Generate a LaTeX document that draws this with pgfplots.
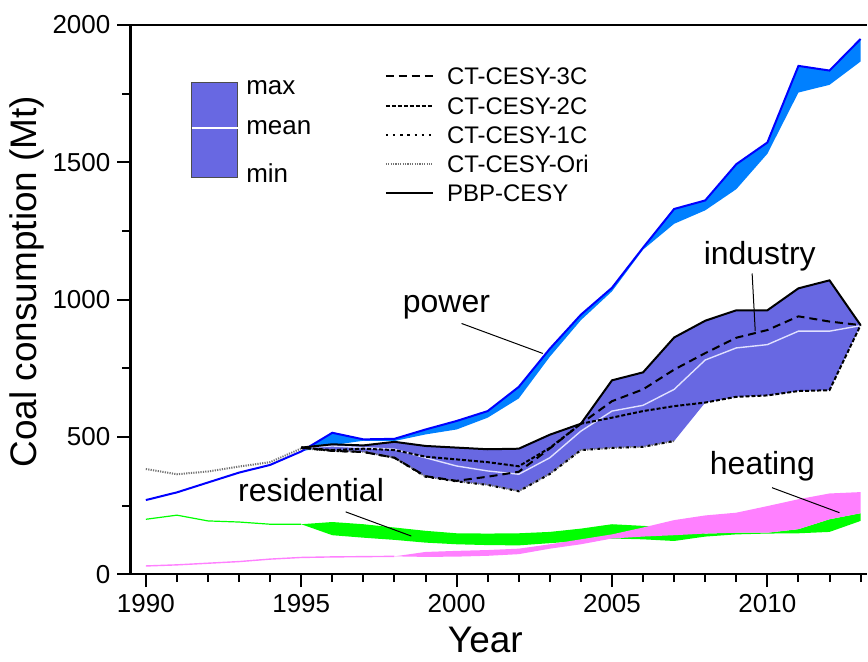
\documentclass[border=0pt]{standalone}
\usepackage{pgfplots}
\pgfplotsset{compat=1.18}
\usepgfplotslibrary{fillbetween}
\usepackage{fontspec}
\setmainfont{Liberation Sans}
\definecolor{powfill}{RGB}{0,128,255}
\definecolor{powline}{RGB}{0,0,255}
\definecolor{indfill}{RGB}{104,104,226}
\definecolor{resfill}{RGB}{0,255,0}
\definecolor{heatfill}{RGB}{255,128,255}
\newcommand\tickfont{\fontsize{13bp}{15bp}\selectfont}
\newcommand\labfont{\fontsize{18.5bp}{21bp}\selectfont}
\newcommand\annofont{\fontsize{16bp}{19bp}\selectfont}
\newcommand\legfont{\fontsize{12bp}{14bp}\selectfont}
\newcommand\legbfont{\fontsize{13bp}{15bp}\selectfont}
\begin{document}
\begin{tikzpicture}
\begin{axis}[name=ax,
  width=368.75bp, height=275bp, scale only axis,
  xmin=1989.5, xmax=2013.2, ymin=0, ymax=2000,
  axis x line*=box, axis y line*=left,
  axis line style={-, line width=1.2bp},
  xtick pos=bottom, ytick pos=left,
  tick align=outside,
  major tick length=6.5bp, minor tick length=4bp,
  every tick/.style={black, line width=1bp},
  xtick={1990,1995,2000,2005,2010},
  minor xtick={1990,1991,...,2013},
  ytick={0,500,1000,1500,2000},
  minor ytick={250,750,1250,1750},
  /pgf/number format/1000 sep={},
  /pgf/number format/assume math mode=true,
  ticklabel style={font=\tickfont},
  xlabel={Year}, ylabel={Coal consumption (Mt)},
  label style={font=\labfont},
  xlabel style={at={(axis description cs:0.482,0)}, anchor=base, yshift=-39bp},
  ylabel style={at={([xshift=-51.75bp]axis description cs:0,0.533)}, anchor=center, rotate=0},
  clip=false,
]
% ---------------- residential (green)
\addplot[name path=rU, draw=none] coordinates {(1995,182)(1996,190)(1997,182)(1998,170)(1999,158)(2000,149)(2001,148)(2002,149)(2003,154)(2004,166)(2005,182)(2006,176)(2007,170)(2008,148)(2009,151)(2010,151)(2011,164)(2012,200)(2013,222)};
\addplot[name path=rL, draw=none] coordinates {(1995,182)(1996,142)(1997,133)(1998,125)(1999,115)(2000,109)(2001,106)(2002,105)(2003,113)(2004,121)(2005,130)(2006,127)(2007,121)(2008,137)(2009,145)(2010,148)(2011,149)(2012,154)(2013,194)};
\addplot[fill=resfill, draw=none] fill between[of=rU and rL];
\addplot[resfill, line width=0.6bp] coordinates {(1990,200)(1991,215)(1992,194)(1993,190)(1994,182)(1995,182)};
% ---------------- heating (pink)
\addplot[name path=hU, draw=none] coordinates {(1998,65)(1999,81)(2000,85)(2001,88)(2002,93)(2003,109)(2004,127)(2005,145)(2006,170)(2007,197)(2008,214)(2009,224)(2010,248)(2011,273)(2012,294)(2013,299)};
\addplot[name path=hL, draw=none] coordinates {(1998,65)(1999,63)(2000,64)(2001,67)(2002,73)(2003,93)(2004,109)(2005,130)(2006,137)(2007,142)(2008,148)(2009,151)(2010,151)(2011,164)(2012,200)(2013,222)};
\addplot[fill=heatfill, draw=none] fill between[of=hU and hL];
\addplot[heatfill, line width=0.7bp] coordinates {(1990,30)(1991,34)(1992,40)(1993,46)(1994,55)(1995,61)(1996,63)(1997,64)(1998,65)};
% ---------------- power (blue)
\addplot[name path=pU, draw=none] coordinates {(1995,447)(1996,515)(1997,491)(1998,493)(1999,527)(2000,558)(2001,594)(2002,682)(2003,821)(2004,945)(2005,1043)(2006,1189)(2007,1330)(2008,1361)(2009,1493)(2010,1572)(2011,1851)(2012,1834)(2013,1949)};
\addplot[name path=pL, draw=none] coordinates {(1995,447)(1996,470)(1997,486)(1998,485)(1999,509)(2000,527)(2001,570)(2002,640)(2003,792)(2004,925)(2005,1030)(2006,1182)(2007,1276)(2008,1325)(2009,1402)(2010,1531)(2011,1754)(2012,1782)(2013,1867)};
\addplot[fill=powfill, draw=none] fill between[of=pU and pL];
\addplot[powline, line width=1bp] coordinates {(1990,270)(1991,298)(1992,334)(1993,370)(1994,398)(1995,447)(1996,515)(1997,491)(1998,493)(1999,527)(2000,558)(2001,594)(2002,682)(2003,821)(2004,945)(2005,1043)(2006,1189)(2007,1330)(2008,1361)(2009,1493)(2010,1572)(2011,1851)(2012,1834)(2013,1949)};
% ---------------- industry (purple)
\addplot[name path=iU, draw=none] coordinates {(1995,461)(1996,473)(1997,469)(1998,482)(1999,467)(2000,461)(2001,455)(2002,457)(2003,508)(2004,548)(2005,706)(2006,735)(2007,862)(2008,923)(2009,961)(2010,961)(2011,1041)(2012,1070)(2013,907)};
\addplot[name path=iL, draw=none] coordinates {(1995,461)(1996,449)(1997,445)(1998,424)(1999,355)(2000,338)(2001,325)(2002,302)(2003,365)(2004,452)(2005,460)(2006,464)(2007,485)(2008,625)(2009,646)(2010,651)(2011,667)(2012,670)(2013,907)};
\addplot[fill=indfill, draw=none] fill between[of=iU and iL];
% mean
\addplot[white!88!blue, line width=0.7bp] coordinates {(1995,461)(1996,467)(1997,461)(1998,455)(1999,424)(2000,394)(2001,376)(2002,364)(2003,424)(2004,521)(2005,594)(2006,615)(2007,673)(2008,780)(2009,824)(2010,836)(2011,885)(2012,885)(2013,905)};
% CT-CESY-Ori
\addplot[black!55, line width=1bp, dash pattern=on 0.6bp off 0.6bp] coordinates {(1990,383)(1991,364)(1992,374)(1993,392)(1994,408)(1995,458)(1996,450)(1997,446)(1998,425)(1999,356)(2000,339)(2001,326)(2002,303)(2003,366)(2004,452)(2005,460)(2006,464)(2007,485)};
% CT-CESY-1C
\addplot[black, line width=1bp, dash pattern=on 1.2bp off 2.4bp] coordinates {(1995,461)(1996,449)(1997,445)(1998,424)(1999,355)(2000,338)(2001,325)(2002,302)(2003,365)(2004,452)(2005,460)(2006,464)(2007,485)};
% CT-CESY-2C
\addplot[black, line width=1bp, dash pattern=on 2bp off 1bp] coordinates {(1995,461)(1996,452)(1997,457)(1998,452)(1999,428)(2000,418)(2001,408)(2002,393)(2003,460)(2004,548)(2005,570)(2006,594)(2007,612)(2008,625)(2009,646)(2010,651)(2011,667)(2012,670)(2013,907)};
% CT-CESY-3C
\addplot[black, line width=1bp, dash pattern=on 4bp off 2.5bp] coordinates {(1995,461)(1996,449)(1997,445)(1998,424)(1999,357)(2000,340)(2001,355)(2002,373)(2003,458)(2004,548)(2005,630)(2006,673)(2007,745)(2008,805)(2009,861)(2010,889)(2011,939)(2012,920)(2013,907)};
% PBP-CESY
\addplot[black, line width=1bp] coordinates {(1995,461)(1996,473)(1997,469)(1998,482)(1999,467)(2000,461)(2001,455)(2002,457)(2003,508)(2004,548)(2005,706)(2006,735)(2007,862)(2008,923)(2009,961)(2010,961)(2011,1041)(2012,1070)(2013,907)};
% ---------------- annotations
\node[anchor=base west, font=\annofont, inner sep=0pt] at (axis cs:1998.26,953) {power};
\draw[line width=0.5bp] (axis cs:2000.16,913) -- (axis cs:2002.77,804);
\node[anchor=base west, font=\annofont, inner sep=0pt] at (axis cs:2007.94,1127) {industry};
\draw[line width=0.5bp] (axis cs:2009.51,1095) -- (axis cs:2009.61,885);
\node[anchor=base west, font=\annofont, inner sep=0pt] at (axis cs:1992.96,263) {residential};
\draw[line width=0.5bp] (axis cs:1996.43,227) -- (axis cs:1998.54,139);
\node[anchor=base west, font=\annofont, inner sep=0pt] at (axis cs:2008.14,364) {heating};
\draw[line width=0.5bp] (axis cs:2010.15,315) -- (axis cs:2012.32,224);
% ---------------- band legend
\fill[indfill] (axis cs:1991.48,1444) rectangle (axis cs:1992.96,1789);
\draw[black!70, line width=0.5bp] (axis cs:1991.48,1444) rectangle (axis cs:1992.96,1789);
\draw[white, line width=0.8bp] (axis cs:1991.48,1625) -- (axis cs:1992.96,1625);
\node[anchor=west, font=\legbfont, inner sep=0pt] at (axis cs:1993.22,1772) {max};
\node[anchor=west, font=\legbfont, inner sep=0pt] at (axis cs:1993.22,1625) {mean};
\node[anchor=west, font=\legbfont, inner sep=0pt] at (axis cs:1993.22,1462) {min};
% ---------------- line legend
\draw[black, line width=1bp, dash pattern=on 4bp off 2.5bp] (axis cs:1997.72,1815) -- (axis cs:1999.23,1815);
\draw[black, line width=1bp, dash pattern=on 2bp off 1bp] (axis cs:1997.72,1705) -- (axis cs:1999.23,1705);
\draw[black, line width=1bp, dash pattern=on 1.2bp off 2.4bp] (axis cs:1997.72,1600) -- (axis cs:1999.23,1600);
\draw[black!55, line width=1bp, dash pattern=on 0.6bp off 0.6bp] (axis cs:1997.72,1495) -- (axis cs:1999.23,1495);
\draw[black, line width=1bp] (axis cs:1997.72,1389) -- (axis cs:1999.23,1389);
\node[anchor=west, font=\legfont, inner sep=0pt] at (axis cs:1999.68,1815) {CT-CESY-3C};
\node[anchor=west, font=\legfont, inner sep=0pt] at (axis cs:1999.68,1705) {CT-CESY-2C};
\node[anchor=west, font=\legfont, inner sep=0pt] at (axis cs:1999.68,1600) {CT-CESY-1C};
\node[anchor=west, font=\legfont, inner sep=0pt] at (axis cs:1999.68,1495) {CT-CESY-Ori};
\node[anchor=west, font=\legfont, inner sep=0pt] at (axis cs:1999.68,1389) {PBP-CESY};
\end{axis}
\path ([xshift=-65.25bp,yshift=-43.5bp]ax.south west) rectangle ([yshift=12.5bp]ax.north east);
\end{tikzpicture}
\end{document}
